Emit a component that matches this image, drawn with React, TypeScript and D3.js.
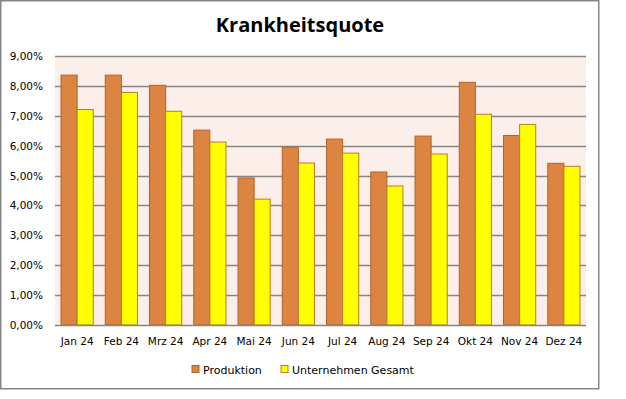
import React, { useEffect, useRef } from 'react';
import * as d3 from 'd3';

const months = ['Jan 24', 'Feb 24', 'Mrz 24', 'Apr 24', 'Mai 24', 'Jun 24', 'Jul 24', 'Aug 24', 'Sep 24', 'Okt 24', 'Nov 24', 'Dez 24'];
const produktion = [8.36, 8.36, 8.02, 6.52, 4.92, 5.95, 6.22, 5.12, 6.32, 8.12, 6.34, 5.41];
const gesamt = [7.21, 7.78, 7.15, 6.12, 4.21, 5.42, 5.75, 4.65, 5.72, 7.05, 6.71, 5.31];
const seriesNames = ['Produktion', 'Unternehmen Gesamt'];
const yTicks = [0, 1, 2, 3, 4, 5, 6, 7, 8, 9];

const App = () => {
  const svgRef = useRef<SVGSVGElement>(null);

  useEffect(() => {
    const plot = { left: 55, right: 586, top: 56, bottom: 325 };
    const font = 'DejaVu Sans, Verdana, sans-serif';

    const svg = d3.select(svgRef.current);
    svg.selectAll('*').remove();

    const fills = ['#DC8441', '#FFFF00'];
    const strokes = ['#B5622A', '#BD7A2A'];

    // chart border
    svg.append('rect')
      .attr('x', 0.75).attr('y', 0.75)
      .attr('width', 598).attr('height', 388)
      .attr('fill', '#fff').attr('stroke', '#858585').attr('stroke-width', 1.5);

    svg.append('text')
      .attr('x', 300).attr('y', 32)
      .attr('text-anchor', 'middle')
      .attr('font-family', 'Open Sans, Lato, sans-serif')
      .attr('font-weight', 'bold').attr('font-size', 20)
      .attr('fill', '#000')
      .text('Krankheitsquote');

    const x = d3.scaleBand().domain(months).range([plot.left, plot.right]).paddingInner(0).paddingOuter(0);
    const y = d3.scaleLinear().domain([0, 9]).range([plot.bottom, plot.top]);
    const barW = x.bandwidth() / 2.75; // gap width 75%

    // plot background
    svg.append('rect')
      .attr('x', plot.left).attr('y', plot.top)
      .attr('width', plot.right - plot.left).attr('height', plot.bottom - plot.top)
      .attr('fill', '#FCEEE9');

    // gridlines
    svg.append('g').selectAll('line')
      .data(yTicks.filter((t) => t > 0))
      .enter().append('line')
      .attr('x1', plot.left).attr('x2', plot.right)
      .attr('y1', (d) => Math.round(y(d)) + 0.5).attr('y2', (d) => Math.round(y(d)) + 0.5)
      .attr('stroke', '#868686').attr('stroke-width', 1.3);

    // y labels
    svg.append('g').selectAll('text')
      .data(yTicks)
      .enter().append('text')
      .attr('x', 43).attr('y', (d) => y(d) + 4)
      .attr('text-anchor', 'end')
      .attr('font-family', font).attr('font-size', 10.5)
      .attr('fill', '#000')
      .text((d) => d3.format('.2f')(d).replace('.', ',') + '%');

    // bars
    [produktion, gesamt].forEach((vals, s) => {
      svg.append('g').selectAll('rect')
        .data(vals)
        .enter().append('rect')
        .attr('x', (d, i) => (x(months[i]) as number) + barW * 0.375 + s * barW)
        .attr('y', (d) => y(d))
        .attr('width', barW)
        .attr('height', (d) => y(0) - y(d))
        .attr('fill', fills[s])
        .attr('stroke', strokes[s]).attr('stroke-width', 1);
    });

    // x axis line
    svg.append('line')
      .attr('x1', plot.left).attr('x2', plot.right)
      .attr('y1', plot.bottom + 0.5).attr('y2', plot.bottom + 0.5)
      .attr('stroke', '#868686').attr('stroke-width', 1.3);

    // x labels
    svg.append('g').selectAll('text')
      .data(months)
      .enter().append('text')
      .attr('x', (d) => (x(d) as number) + x.bandwidth() / 2)
      .attr('y', 345)
      .attr('text-anchor', 'middle')
      .attr('font-family', font).attr('font-size', 10.5)
      .attr('fill', '#000')
      .text((d) => d);

    // legend
    const legendX = [192, 281];
    seriesNames.forEach((name, i) => {
      svg.append('rect')
        .attr('x', legendX[i]).attr('y', 365.5)
        .attr('width', 7).attr('height', 7)
        .attr('fill', fills[i]).attr('stroke', strokes[i]).attr('stroke-width', 1);
      svg.append('text')
        .attr('x', legendX[i] + 11).attr('y', 374)
        .attr('font-family', font).attr('font-size', 11)
        .attr('fill', '#000')
        .text(name);
    });
  }, []);

  return (
    <svg ref={svgRef} width={626} height={399} style={{ position: 'absolute', left: 0, top: 0 }}></svg>
  );
};

export default App;
